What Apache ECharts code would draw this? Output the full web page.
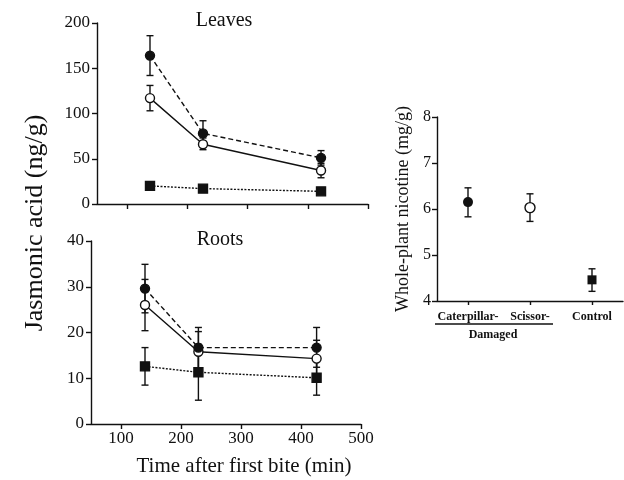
<!DOCTYPE html>
<html>
<head>
<meta charset="utf-8">
<script src="https://cdn.jsdelivr.net/npm/echarts@6/dist/echarts.min.js"></script>
<style>
html,body{margin:0;padding:0;background:#fff;}
#c{width:624px;height:480px;}
</style>
</head>
<body>
<div id="c"></div>
<script>
// ---- data ----
var leavesTimes = [138, 226, 422];
var rootsTimes = [140, 229, 426];
var timeTicks = [100, 200, 300, 400, 500];

var leavesCat = [164, 78, 51];
var leavesCatHi = [186, 92, 59];
var leavesCatLo = [142, 64, 43];
var leavesSci = [117, 66, 37];
var leavesSciHi = [131, 73, 45];
var leavesSciLo = [103, 60, 29];
var leavesCtl = [20, 17, 14];

var rootsCat = [29.6, 16.7, 16.7];
var rootsCatHi = [34.9, 21.1, 21.1];
var rootsCatLo = [24.3, 12.3, 12.4];
var rootsSci = [26.0, 15.8, 14.3];
var rootsSciHi = [31.6, 20.2, 18.3];
var rootsSciLo = [20.4, 11.4, 10.3];
var rootsCtl = [12.6, 11.3, 10.1];
var rootsCtlHi = [16.7, 17.4, 13.9];
var rootsCtlLo = [8.5, 5.2, 6.3];

var nicCategories = ['Caterpillar-', 'Scissor-', 'Control'];
var nicMean = [6.15, 6.03, 4.46];
var nicHi = [6.46, 6.33, 4.70];
var nicLo = [5.83, 5.73, 4.21];

// ---- helpers ----
var FONT = '"Liberation Serif", "DejaVu Serif", serif';
var INK = '#111';

function pts(xs, ys) { return xs.map(function (x, i) { return [x, ys[i]]; }); }
function errData(xs, lo, hi) { return xs.map(function (x, i) { return [x, lo[i], hi[i]]; }); }

function errSeries(xi, yi, data) {
  return {
    type: 'custom', xAxisIndex: xi, yAxisIndex: yi, z: 1, silent: true,
    data: data,
    encode: { x: 0, y: [1, 2] },
    renderItem: function (params, api) {
      var x = api.value(0);
      var a = api.coord([x, api.value(1)]);
      var b = api.coord([x, api.value(2)]);
      var w = 3.5;
      var st = { stroke: INK, lineWidth: 1.4, fill: null };
      return { type: 'group', children: [
        { type: 'line', shape: { x1: a[0], y1: a[1], x2: b[0], y2: b[1] }, style: st },
        { type: 'line', shape: { x1: a[0] - w, y1: a[1], x2: a[0] + w, y2: a[1] }, style: st },
        { type: 'line', shape: { x1: b[0] - w, y1: b[1], x2: b[0] + w, y2: b[1] }, style: st }
      ] };
    }
  };
}

function lineSeries(xi, yi, data, kind) {
  var s = {
    type: 'line', xAxisIndex: xi, yAxisIndex: yi, z: 3, data: data,
    symbolSize: 9, showSymbol: true, animation: false,
    lineStyle: { color: INK, width: 1.4 },
    itemStyle: { color: INK, borderColor: INK, borderWidth: 1.4, opacity: 1 }
  };
  if (kind === 'cat') { s.symbol = 'circle'; s.lineStyle.type = [5, 3]; }
  if (kind === 'sci') { s.symbol = 'circle'; s.symbolSize = 9; s.lineStyle.type = 'solid'; s.itemStyle.color = '#fff'; }
  if (kind === 'ctl') { s.symbol = 'rect'; s.symbolSize = 9; s.lineStyle.type = [2, 1.5]; }
  return s;
}

var axisLine = { show: true, lineStyle: { color: INK, width: 1.4 } };
var axisTick = { show: true, length: 5, lineStyle: { color: INK, width: 1.4 } };
var tickLabel = { color: INK, fontFamily: FONT, fontSize: 17 };

var option = {
  backgroundColor: '#fff',
  animation: false,
  grid: [
    { left: 97, top: 23, width: 271, height: 181 },
    { left: 91, top: 241, width: 270, height: 183 },
    { left: 437, top: 117, width: 186, height: 184 }
  ],
  xAxis: [
    { type: 'value', gridIndex: 0, min: 50, max: 500, splitLine: { show: false },
      axisLine: axisLine,
      axisTick: Object.assign({}, axisTick, { customValues: timeTicks }),
      axisLabel: { show: false } },
    { type: 'value', gridIndex: 1, min: 50, max: 500, splitLine: { show: false },
      axisLine: axisLine,
      axisTick: Object.assign({}, axisTick, { customValues: timeTicks }),
      axisLabel: Object.assign({}, tickLabel, { margin: 6, customValues: timeTicks }) },
    { type: 'category', gridIndex: 2, data: nicCategories, boundaryGap: true,
      axisLine: axisLine,
      axisTick: Object.assign({}, axisTick, { alignWithLabel: true, length: 4 }),
      axisLabel: { color: INK, fontFamily: FONT, fontSize: 12, fontWeight: 'bold', margin: 10, interval: 0 } }
  ],
  yAxis: [
    { type: 'value', gridIndex: 0, min: 0, max: 200, interval: 50, splitLine: { show: false },
      axisLine: axisLine, axisTick: axisTick,
      axisLabel: Object.assign({}, tickLabel, { margin: 7 }) },
    { type: 'value', gridIndex: 1, min: 0, max: 40, interval: 10, splitLine: { show: false },
      axisLine: axisLine, axisTick: axisTick,
      axisLabel: Object.assign({}, tickLabel, { margin: 7 }) },
    { type: 'value', gridIndex: 2, min: 4, max: 8, interval: 1, splitLine: { show: false },
      axisLine: axisLine, axisTick: axisTick,
      axisLabel: Object.assign({}, tickLabel, { fontSize: 16, margin: 6 }),
      name: 'Whole-plant nicotine (mg/g)', nameLocation: 'middle', nameGap: 25,
      nameTextStyle: { color: INK, fontFamily: FONT, fontSize: 18 } }
  ],
  series: [
    errSeries(0, 0, errData(leavesTimes, leavesCatLo, leavesCatHi)),
    errSeries(0, 0, errData(leavesTimes, leavesSciLo, leavesSciHi)),
    lineSeries(0, 0, pts(leavesTimes, leavesCtl), 'ctl'),
    lineSeries(0, 0, pts(leavesTimes, leavesSci), 'sci'),
    lineSeries(0, 0, pts(leavesTimes, leavesCat), 'cat'),

    errSeries(1, 1, errData(rootsTimes, rootsCatLo, rootsCatHi)),
    errSeries(1, 1, errData(rootsTimes, rootsSciLo, rootsSciHi)),
    errSeries(1, 1, errData(rootsTimes, rootsCtlLo, rootsCtlHi)),
    lineSeries(1, 1, pts(rootsTimes, rootsCtl), 'ctl'),
    lineSeries(1, 1, pts(rootsTimes, rootsSci), 'sci'),
    lineSeries(1, 1, pts(rootsTimes, rootsCat), 'cat'),

    errSeries(2, 2, errData(nicCategories, nicLo, nicHi)),
    { type: 'scatter', xAxisIndex: 2, yAxisIndex: 2, z: 3, symbolSize: 10,
      data: nicCategories.map(function (c, i) {
        var st = i === 1 ? { color: '#fff', borderColor: INK, borderWidth: 1.4, opacity: 1 } : { color: INK, opacity: 1 };
        return { value: [c, nicMean[i]], symbol: i === 2 ? 'rect' : 'circle', symbolSize: i === 2 ? 9 : 10, itemStyle: st };
      }) }
  ],
  graphic: [
    { type: 'text', x: 224, y: 21, style: { text: 'Leaves', font: '20px ' + FONT, fill: INK, align: 'center', verticalAlign: 'middle' } },
    { type: 'text', x: 220, y: 240, style: { text: 'Roots', font: '20px ' + FONT, fill: INK, align: 'center', verticalAlign: 'middle' } },
    { type: 'text', x: 244, y: 466, style: { text: 'Time after first bite (min)', font: '21px ' + FONT, fill: INK, align: 'center', verticalAlign: 'middle' } },
    { type: 'text', x: 35, y: 223, rotation: Math.PI / 2, style: { text: 'Jasmonic acid (ng/g)', font: '26px ' + FONT, fill: INK, align: 'center', verticalAlign: 'middle' } },
    { type: 'line', shape: { x1: 435, y1: 324, x2: 553, y2: 324 }, style: { stroke: INK, lineWidth: 1.3 } },
    { type: 'text', x: 493, y: 335, style: { text: 'Damaged', font: 'bold 12px ' + FONT, fill: INK, align: 'center', verticalAlign: 'middle' } }
  ]
};

var chart = echarts.init(document.getElementById('c'), null, { renderer: 'canvas' });
chart.setOption(option);
</script>
</body>
</html>
